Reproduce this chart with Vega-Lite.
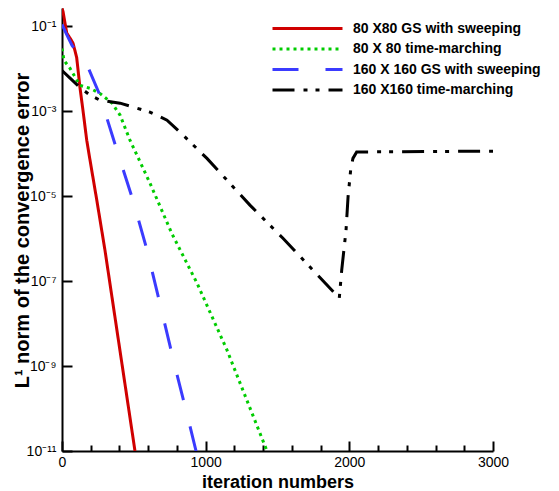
{
  "$schema": "https://vega.github.io/schema/vega-lite/v6.json",
  "width": 431,
  "height": 443,
  "autosize": {"type": "none"},
  "padding": {"left": 62, "top": 8, "right": 66, "bottom": 40},
  "background": "white",
  "config": {
    "view": {"stroke": null},
    "font": "Liberation Sans",
    "axis": {
      "domainColor": "black", "domainWidth": 2, "tickColor": "black", "tickWidth": 2,
      "grid": false, "labelFont": "Liberation Sans", "labelFontSize": 14, "labelColor": "black",
      "labelFlush": false, "labelOverlap": false,
      "titleFont": "Liberation Sans", "titleFontWeight": "bold", "titleColor": "black"
    },
    "legend": {
      "orient": "none", "legendX": 237, "legendY": 12, "padding": 0,
      "symbolType": "M-5,0L5,0", "symbolSize": 196, "symbolStrokeWidth": 3,
      "labelFont": "Liberation Sans", "labelFontSize": 14, "labelFontWeight": "bold", "labelColor": "black",
      "labelOffset": 37, "rowPadding": 4.5, "labelLimit": 0
    }
  },
  "data": {"values": [
    {"series": "80 X80 GS with sweeping", "iter": 0, "err": 0.263},
    {"series": "80 X80 GS with sweeping", "iter": 7, "err": 0.224},
    {"series": "80 X80 GS with sweeping", "iter": 33, "err": 0.0692},
    {"series": "80 X80 GS with sweeping", "iter": 60, "err": 0.0501},
    {"series": "80 X80 GS with sweeping", "iter": 77, "err": 0.0398},
    {"series": "80 X80 GS with sweeping", "iter": 102, "err": 0.0186},
    {"series": "80 X80 GS with sweeping", "iter": 125, "err": 0.00363},
    {"series": "80 X80 GS with sweeping", "iter": 146, "err": 0.00105},
    {"series": "80 X80 GS with sweeping", "iter": 172, "err": 0.000209},
    {"series": "80 X80 GS with sweeping", "iter": 195, "err": 0.0000708},
    {"series": "80 X80 GS with sweeping", "iter": 242, "err": 0.00000813},
    {"series": "80 X80 GS with sweeping", "iter": 299, "err": 5.37e-7},
    {"series": "80 X80 GS with sweeping", "iter": 508, "err": 1e-11},
    {"series": "80 X 80 time-marching", "iter": 0, "err": 0.0302},
    {"series": "80 X 80 time-marching", "iter": 14, "err": 0.0158},
    {"series": "80 X 80 time-marching", "iter": 56, "err": 0.0102},
    {"series": "80 X 80 time-marching", "iter": 125, "err": 0.00407},
    {"series": "80 X 80 time-marching", "iter": 195, "err": 0.00347},
    {"series": "80 X 80 time-marching", "iter": 264, "err": 0.00263},
    {"series": "80 X 80 time-marching", "iter": 348, "err": 0.00155},
    {"series": "80 X 80 time-marching", "iter": 404, "err": 0.000813},
    {"series": "80 X 80 time-marching", "iter": 473, "err": 0.000209},
    {"series": "80 X 80 time-marching", "iter": 612, "err": 0.0000204},
    {"series": "80 X 80 time-marching", "iter": 766, "err": 0.00000129},
    {"series": "80 X 80 time-marching", "iter": 940, "err": 8.91e-8},
    {"series": "80 X 80 time-marching", "iter": 1148, "err": 2.4e-9},
    {"series": "80 X 80 time-marching", "iter": 1427, "err": 1e-11},
    {"series": "160 X 160 GS with sweeping", "iter": 0, "err": 0.111},
    {"series": "160 X 160 GS with sweeping", "iter": 28, "err": 0.0692},
    {"series": "160 X 160 GS with sweeping", "iter": 70, "err": 0.0355},
    {"series": "160 X 160 GS with sweeping", "iter": 181, "err": 0.01084},
    {"series": "160 X 160 GS with sweeping", "iter": 258, "err": 0.00265},
    {"series": "160 X 160 GS with sweeping", "iter": 376, "err": 0.000142},
    {"series": "160 X 160 GS with sweeping", "iter": 494, "err": 0.00000805},
    {"series": "160 X 160 GS with sweeping", "iter": 592, "err": 5.37e-7},
    {"series": "160 X 160 GS with sweeping", "iter": 696, "err": 1.86e-8},
    {"series": "160 X 160 GS with sweeping", "iter": 787, "err": 9.5e-10},
    {"series": "160 X 160 GS with sweeping", "iter": 884, "err": 4.8e-11},
    {"series": "160 X 160 GS with sweeping", "iter": 933, "err": 1e-11},
    {"series": "160 X160 time-marching", "iter": 0, "err": 0.00912},
    {"series": "160 X160 time-marching", "iter": 56, "err": 0.00603},
    {"series": "160 X160 time-marching", "iter": 125, "err": 0.00363},
    {"series": "160 X160 time-marching", "iter": 195, "err": 0.0024},
    {"series": "160 X160 time-marching", "iter": 264, "err": 0.00182},
    {"series": "160 X160 time-marching", "iter": 404, "err": 0.00155},
    {"series": "160 X160 time-marching", "iter": 473, "err": 0.00132},
    {"series": "160 X160 time-marching", "iter": 612, "err": 0.000955},
    {"series": "160 X160 time-marching", "iter": 731, "err": 0.000617},
    {"series": "160 X160 time-marching", "iter": 842, "err": 0.000275},
    {"series": "160 X160 time-marching", "iter": 1009, "err": 0.0000776},
    {"series": "160 X160 time-marching", "iter": 1308, "err": 0.00000617},
    {"series": "160 X160 time-marching", "iter": 1538, "err": 0.00000102},
    {"series": "160 X160 time-marching", "iter": 1930, "err": 3.98e-8},
    {"series": "160 X160 time-marching", "iter": 1947, "err": 1.82e-7},
    {"series": "160 X160 time-marching", "iter": 1977, "err": 0.00000158},
    {"series": "160 X160 time-marching", "iter": 1991, "err": 0.00000955},
    {"series": "160 X160 time-marching", "iter": 2009, "err": 0.0000407},
    {"series": "160 X160 time-marching", "iter": 2025, "err": 0.0000776},
    {"series": "160 X160 time-marching", "iter": 2051, "err": 0.00011},
    {"series": "160 X160 time-marching", "iter": 3000, "err": 0.000115}
  ]},
  "mark": {"type": "line", "strokeWidth": 3, "clip": true, "strokeCap": "butt"},
  "encoding": {
    "x": {
      "field": "iter", "type": "quantitative",
      "scale": {"domain": [0, 3000], "nice": false, "zero": false},
      "axis": {
        "title": "iteration numbers", "titleFontSize": 18,
        "titleY": 36, "titleBaseline": "alphabetic",
        "values": [0,200,400,600,800,1000,1200,1400,1600,1800,2000,2200,2400,2600,2800,3000],
        "format": "d",
        "labelExpr": "datum.value % 1000 === 0 ? datum.label : ''",
        "tickSize": {"condition": {"test": "datum.value % 1000 === 0", "value": -10}, "value": -6},
        "labelPadding": 14
      }
    },
    "y": {
      "field": "err", "type": "quantitative",
      "scale": {"type": "log", "domain": [1e-11, 0.27], "nice": false},
      "axis": {
        "title": "L¹ norm of the convergence error", "titleFontSize": 20,
        "titleX": -40, "titleY": 222, "titleBaseline": "middle", "titleAlign": "center", "titleAngle": -90,
        "values": [0.1, 0.001, 0.00001, 1e-7, 1e-9, 1e-11],
        "labelExpr": "'10' + (datum.value > 0.05 ? '⁻¹' : datum.value > 0.0005 ? '⁻³' : datum.value > 0.000005 ? '⁻⁵' : datum.value > 5e-8 ? '⁻⁷' : datum.value > 5e-10 ? '⁻⁹' : '⁻¹¹')",
        "tickSize": -10,
        "labelPadding": 16
      }
    },
    "color": {
      "field": "series", "type": "nominal",
      "scale": {
        "domain": ["80 X80 GS with sweeping", "80 X 80 time-marching", "160 X 160 GS with sweeping", "160 X160 time-marching"],
        "range": ["#d00000", "#00cc00", "#3b3bff", "#000000"]
      },
      "legend": {"title": null}
    },
    "strokeDash": {
      "field": "series", "type": "nominal",
      "scale": {
        "domain": ["80 X80 GS with sweeping", "80 X 80 time-marching", "160 X 160 GS with sweeping", "160 X160 time-marching"],
        "range": [[1, 0], [3, 4], [26, 27], [22, 9, 4, 8, 4, 9]]
      },
      "legend": {"title": null}
    }
  }
}
